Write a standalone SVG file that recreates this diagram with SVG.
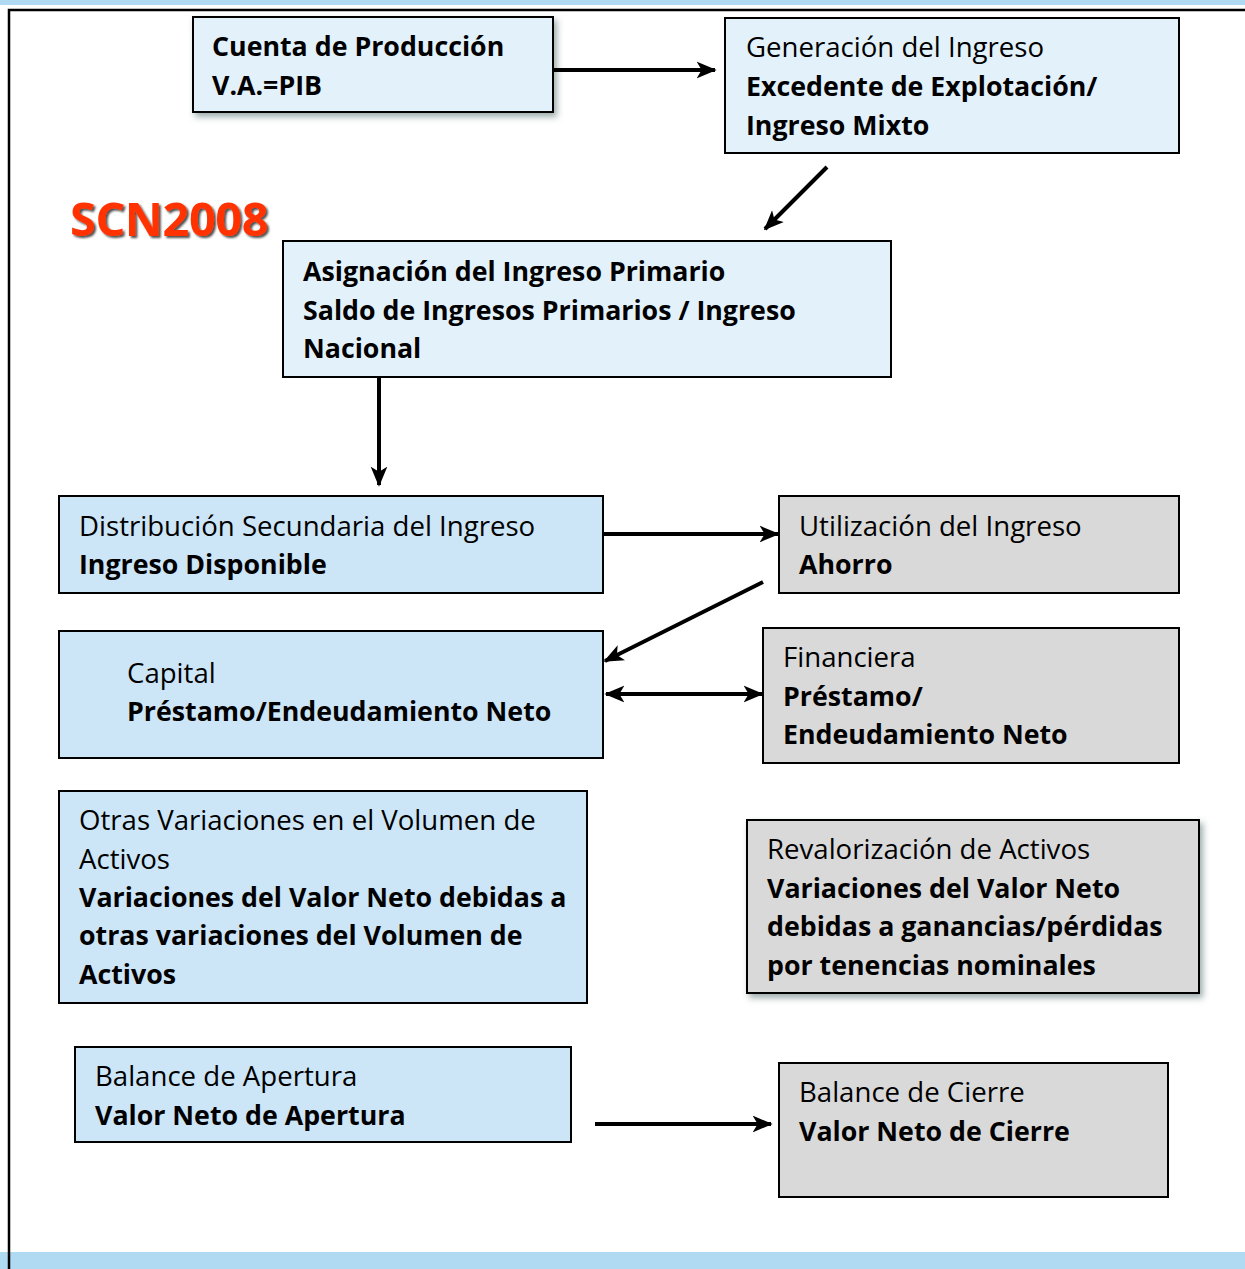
<svg xmlns="http://www.w3.org/2000/svg" width="1245" height="1269" viewBox="0 0 1245 1269">
<style>
.t{font-family:"Open Sans","Noto Sans",sans-serif;font-size:27.6px;fill:#000}
.b{font-weight:bold;font-size:26.75px}
.box{stroke:#000;stroke-width:2}
.blue1{fill:#e3f1fb}
.blue2{fill:#cce5f7}
.gray{fill:#d9d9d9}
.c{stroke:#000;stroke-width:4;fill:none}
</style>
<defs>
<marker id="ah" viewBox="0 0 12 10" refX="11" refY="5" markerWidth="5" markerHeight="4.4" markerUnits="strokeWidth" orient="auto-start-reverse">
<path d="M0,0 L12,5 L0,10 L3,5 Z" fill="#000"/>
</marker>
<filter id="sh" x="-10%" y="-10%" width="125%" height="130%">
<feDropShadow dx="3" dy="4" stdDeviation="3" flood-color="#3a5a5a" flood-opacity="0.5"/>
</filter>
<filter id="tsh" x="-10%" y="-10%" width="120%" height="130%">
<feDropShadow dx="2" dy="2" stdDeviation="1" flood-color="#000" flood-opacity="0.7"/>
</filter>
</defs>
<rect x="0" y="0" width="1245" height="1269" fill="#fff"/>
<rect x="0" y="0" width="1245" height="5" fill="#b0d9f2"/>
<rect x="0" y="1252" width="1245" height="17" fill="#b0d9f2"/>
<path d="M9,1269 V10 H1245" stroke="#000" stroke-width="2.5" fill="none"/>

<g id="cuenta-produccion">
<rect class="box blue1" x="193" y="17" width="360" height="95" filter="url(#sh)"/>
<text class="t b" x="212" y="56">Cuenta de Producción</text>
<text class="t b" x="212" y="95">V.A.=PIB</text>
</g>
<g id="generacion-ingreso">
<rect class="box blue1" x="725" y="18" width="454" height="135"/>
<text class="t" x="746" y="57">Generación del Ingreso</text>
<text class="t b" x="746" y="96">Excedente de Explotación/</text>
<text class="t b" x="746" y="135">Ingreso Mixto</text>
</g>
<g id="scn2008">
<text x="70" y="236" font-family="'Open Sans','Noto Sans',sans-serif" font-size="47" font-weight="bold" fill="#ff3300" filter="url(#tsh)" letter-spacing="-0.5">SCN2008</text>
</g>
<g id="asignacion-ingreso">
<rect class="box blue1" x="283" y="241" width="608" height="136"/>
<text class="t b" x="303" y="281">Asignación del Ingreso Primario</text>
<text class="t b" x="303" y="320">Saldo de Ingresos Primarios / Ingreso</text>
<text class="t b" x="303" y="358">Nacional</text>
</g>
<g id="distribucion-secundaria">
<rect class="box blue2" x="59" y="496" width="544" height="97"/>
<text class="t" x="79" y="536">Distribución Secundaria del Ingreso</text>
<text class="t b" x="79" y="574">Ingreso Disponible</text>
</g>
<g id="utilizacion-ingreso">
<rect class="box gray" x="779" y="496" width="400" height="97"/>
<text class="t" x="799" y="536">Utilización del Ingreso</text>
<text class="t b" x="799" y="574">Ahorro</text>
</g>
<g id="capital">
<rect class="box blue2" x="59" y="631" width="544" height="127"/>
<text class="t" x="127" y="683">Capital</text>
<text class="t b" x="127" y="721">Préstamo/Endeudamiento Neto</text>
</g>
<g id="financiera">
<rect class="box gray" x="763" y="628" width="416" height="135"/>
<text class="t" x="783" y="667">Financiera</text>
<text class="t b" x="783" y="706">Préstamo/</text>
<text class="t b" x="783" y="744">Endeudamiento Neto</text>
</g>
<g id="otras-variaciones">
<rect class="box blue2" x="59" y="791" width="528" height="212"/>
<text class="t" x="79" y="830">Otras Variaciones en el Volumen de</text>
<text class="t" x="79" y="869">Activos</text>
<text class="t b" x="79" y="907">Variaciones del Valor Neto debidas a</text>
<text class="t b" x="79" y="945">otras variaciones del Volumen de</text>
<text class="t b" x="79" y="984">Activos</text>
</g>
<g id="revalorizacion">
<rect class="box gray" x="747" y="820" width="452" height="173" filter="url(#sh)"/>
<text class="t" x="767" y="859">Revalorización de Activos</text>
<text class="t b" x="767" y="898">Variaciones del Valor Neto</text>
<text class="t b" x="767" y="936">debidas a ganancias/pérdidas</text>
<text class="t b" x="767" y="975">por tenencias nominales</text>
</g>
<g id="balance-apertura">
<rect class="box blue2" x="75" y="1047" width="496" height="95"/>
<text class="t" x="95" y="1086">Balance de Apertura</text>
<text class="t b" x="95" y="1125">Valor Neto de Apertura</text>
</g>
<g id="balance-cierre">
<rect class="box gray" x="779" y="1063" width="389" height="134"/>
<text class="t" x="799" y="1102">Balance de Cierre</text>
<text class="t b" x="799" y="1141">Valor Neto de Cierre</text>
</g>

<g id="connectors">
<line class="c" x1="554" y1="70" x2="715" y2="70" marker-end="url(#ah)"/>
<line class="c" x1="827" y1="167" x2="765" y2="229" marker-end="url(#ah)"/>
<line class="c" x1="379" y1="378" x2="379" y2="485" marker-end="url(#ah)"/>
<line class="c" x1="604" y1="534" x2="778" y2="534" marker-end="url(#ah)"/>
<line class="c" x1="763" y1="582" x2="605" y2="661" marker-end="url(#ah)"/>
<line class="c" x1="606" y1="694" x2="762" y2="694" marker-start="url(#ah)" marker-end="url(#ah)"/>
<line class="c" x1="595" y1="1124" x2="771" y2="1124" marker-end="url(#ah)"/>
</g>
</svg>
